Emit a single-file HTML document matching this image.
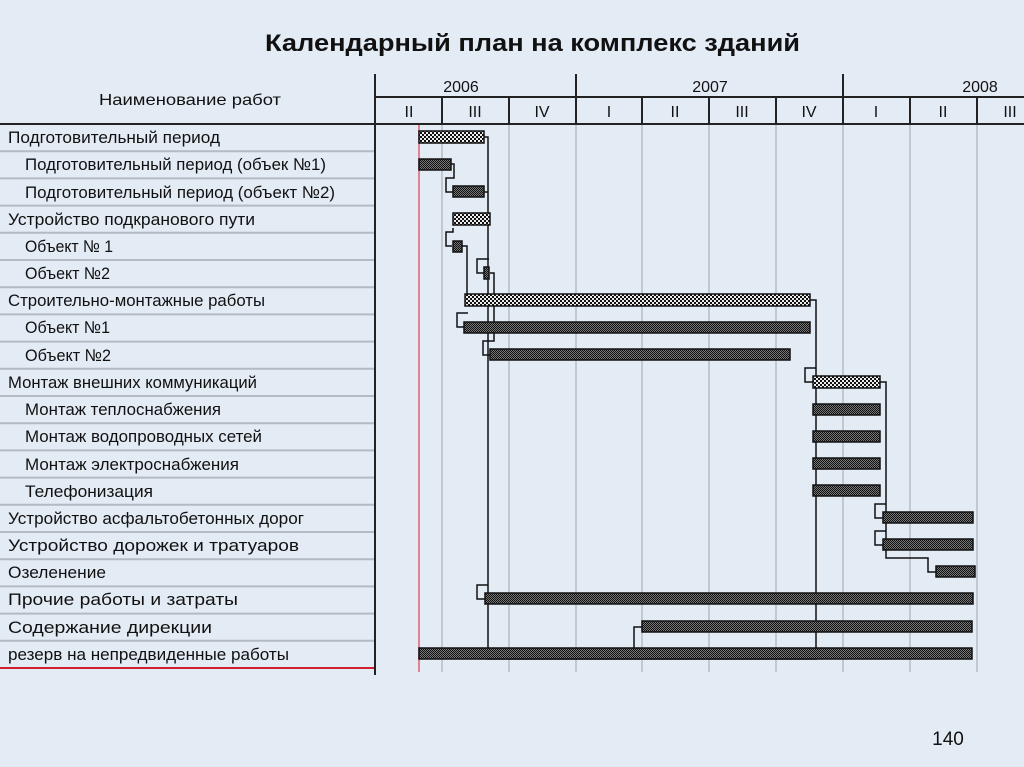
<!DOCTYPE html>
<html><head><meta charset="utf-8"><style>
html,body{margin:0;padding:0;background:#e3ebf5;}
svg{display:block}
</style></head><body>
<svg width="1024" height="767" viewBox="0 0 1024 767" xmlns="http://www.w3.org/2000/svg" font-family="'Liberation Sans', sans-serif">
<defs>
<pattern id="sum" width="4" height="4" patternUnits="userSpaceOnUse">
<rect width="4" height="4" fill="#eee"/><rect width="2" height="2" fill="#111"/><rect x="2" y="2" width="2" height="2" fill="#111"/>
</pattern>
<pattern id="tsk" width="2" height="2" patternUnits="userSpaceOnUse">
<rect width="2" height="2" fill="#777"/><rect width="1" height="1" fill="#111"/><rect x="1" y="1" width="1" height="1" fill="#111"/>
</pattern>
</defs>
<rect width="1024" height="767" fill="#e3ebf5"/>
<text x="265" y="51" font-size="24" font-weight="bold" fill="#111" textLength="535" lengthAdjust="spacingAndGlyphs">Календарный план на комплекс зданий</text>
<text x="948" y="745" text-anchor="middle" font-size="19" fill="#111">140</text>

<g stroke="#b4bac4" stroke-width="2">
<line x1="0" y1="151.2" x2="375" y2="151.2"/><line x1="0" y1="178.4" x2="375" y2="178.4"/><line x1="0" y1="205.6" x2="375" y2="205.6"/><line x1="0" y1="232.8" x2="375" y2="232.8"/><line x1="0" y1="260" x2="375" y2="260"/><line x1="0" y1="287.2" x2="375" y2="287.2"/><line x1="0" y1="314.4" x2="375" y2="314.4"/><line x1="0" y1="341.6" x2="375" y2="341.6"/><line x1="0" y1="368.8" x2="375" y2="368.8"/><line x1="0" y1="396" x2="375" y2="396"/><line x1="0" y1="423.2" x2="375" y2="423.2"/><line x1="0" y1="450.4" x2="375" y2="450.4"/><line x1="0" y1="477.6" x2="375" y2="477.6"/><line x1="0" y1="504.8" x2="375" y2="504.8"/><line x1="0" y1="532" x2="375" y2="532"/><line x1="0" y1="559.2" x2="375" y2="559.2"/><line x1="0" y1="586.4" x2="375" y2="586.4"/><line x1="0" y1="613.6" x2="375" y2="613.6"/><line x1="0" y1="640.8" x2="375" y2="640.8"/>
</g>
<g stroke="#b6bcc6" stroke-width="1.5">
<line x1="442" y1="124" x2="442" y2="672"/><line x1="509" y1="124" x2="509" y2="672"/><line x1="576" y1="124" x2="576" y2="672"/><line x1="642" y1="124" x2="642" y2="672"/><line x1="709" y1="124" x2="709" y2="672"/><line x1="776" y1="124" x2="776" y2="672"/><line x1="843" y1="124" x2="843" y2="672"/><line x1="910" y1="124" x2="910" y2="672"/><line x1="977" y1="124" x2="977" y2="672"/>
</g>
<line x1="419" y1="124" x2="419" y2="672" stroke="#e06070" stroke-width="1.5"/>
<line x1="0" y1="668" x2="375" y2="668" stroke="#d02030" stroke-width="2"/>

<g stroke="#222" stroke-width="2">
<line x1="0" y1="124" x2="1024" y2="124"/>
<line x1="375" y1="97" x2="1024" y2="97"/>
<line x1="375" y1="74" x2="375" y2="675"/>
<line x1="576" y1="74" x2="576" y2="124"/><line x1="843" y1="74" x2="843" y2="124"/>
<line x1="442" y1="97" x2="442" y2="124"/><line x1="509" y1="97" x2="509" y2="124"/><line x1="642" y1="97" x2="642" y2="124"/><line x1="709" y1="97" x2="709" y2="124"/><line x1="776" y1="97" x2="776" y2="124"/><line x1="910" y1="97" x2="910" y2="124"/><line x1="977" y1="97" x2="977" y2="124"/>
</g>
<g font-size="16" fill="#111" text-anchor="middle">
<text x="190" y="105" textLength="182" lengthAdjust="spacingAndGlyphs">Наименование работ</text>
<text x="461" y="92">2006</text><text x="710" y="92">2007</text><text x="980" y="92">2008</text>
<text x="409" y="117">II</text><text x="475" y="117">III</text><text x="542" y="117">IV</text><text x="609" y="117">I</text><text x="675" y="117">II</text><text x="742" y="117">III</text><text x="809" y="117">IV</text><text x="876" y="117">I</text><text x="943" y="117">II</text><text x="1010" y="117">III</text>
</g>

<g font-size="17" fill="#111">
<text x="8" y="143" textLength="212" lengthAdjust="spacingAndGlyphs">Подготовительный период</text>
<text x="25" y="170" textLength="301" lengthAdjust="spacingAndGlyphs">Подготовительный период (объек №1)</text>
<text x="25" y="198" textLength="310" lengthAdjust="spacingAndGlyphs">Подготовительный период (объект №2)</text>
<text x="8" y="225" textLength="247" lengthAdjust="spacingAndGlyphs">Устройство подкранового пути</text>
<text x="25" y="252" textLength="88" lengthAdjust="spacingAndGlyphs">Объект № 1</text>
<text x="25" y="279" textLength="85" lengthAdjust="spacingAndGlyphs">Объект №2</text>
<text x="8" y="306" textLength="257" lengthAdjust="spacingAndGlyphs">Строительно-монтажные работы</text>
<text x="25" y="333" textLength="85" lengthAdjust="spacingAndGlyphs">Объект №1</text>
<text x="25" y="361" textLength="86" lengthAdjust="spacingAndGlyphs">Объект №2</text>
<text x="8" y="388" textLength="249" lengthAdjust="spacingAndGlyphs">Монтаж внешних коммуникаций</text>
<text x="25" y="415" textLength="196" lengthAdjust="spacingAndGlyphs">Монтаж теплоснабжения</text>
<text x="25" y="442" textLength="237" lengthAdjust="spacingAndGlyphs">Монтаж водопроводных сетей</text>
<text x="25" y="470" textLength="214" lengthAdjust="spacingAndGlyphs">Монтаж электроснабжения</text>
<text x="25" y="497" textLength="128" lengthAdjust="spacingAndGlyphs">Телефонизация</text>
<text x="8" y="524" textLength="296" lengthAdjust="spacingAndGlyphs">Устройство асфальтобетонных дорог</text>
<text x="8" y="551" textLength="291" lengthAdjust="spacingAndGlyphs">Устройство дорожек и тратуаров</text>
<text x="8" y="578" textLength="98" lengthAdjust="spacingAndGlyphs">Озеленение</text>
<text x="8" y="605" textLength="230" lengthAdjust="spacingAndGlyphs">Прочие работы и затраты</text>
<text x="8" y="633" textLength="204" lengthAdjust="spacingAndGlyphs">Содержание дирекции</text>
<text x="8" y="660" textLength="281" lengthAdjust="spacingAndGlyphs">резерв на непредвиденные работы</text>
</g>

<g fill="none" stroke="#111" stroke-width="1.5">
<path d="M484 137 H488 V659 H816 V382"/>
<path d="M810 300 H816 V382"/>
<path d="M451 164 H454 V178 H446 V192 H453"/>
<path d="M484 192 H488"/>
<path d="M453 228 V232 H446 V246 H452"/>
<path d="M461 246 H467 V295"/>
<path d="M489 259 H477 V273 H484"/>
<path d="M490 273 H494 V341 H483 V355 H490"/>
<path d="M468 313 H457 V327 H464"/>
<path d="M816 368 H805 V382 H813"/>
<path d="M880 382 H886 V558 H928 V572 H936"/>
<path d="M886 504 H875 V518 H883"/>
<path d="M886 531 H875 V545 H883"/>
<path d="M488 585 H477 V599 H485"/>
<path d="M634 659 V627 H642"/>
</g>

<g stroke="#111" stroke-width="1.5">
<rect x="419" y="131" width="65" height="12" fill="url(#sum)"/>
<rect x="419" y="159" width="32" height="11" fill="url(#tsk)"/>
<rect x="453" y="186" width="31" height="11" fill="url(#tsk)"/>
<rect x="453" y="213" width="37" height="12" fill="url(#sum)"/>
<rect x="453" y="241" width="9" height="11" fill="url(#tsk)"/>
<rect x="484" y="267" width="5" height="12" fill="url(#tsk)"/>
<rect x="465" y="294" width="345" height="12" fill="url(#sum)"/>
<rect x="464" y="322" width="346" height="11" fill="url(#tsk)"/>
<rect x="490" y="349" width="300" height="11" fill="url(#tsk)"/>
<rect x="813" y="376" width="67" height="12" fill="url(#sum)"/>
<rect x="813" y="404" width="67" height="11" fill="url(#tsk)"/>
<rect x="813" y="431" width="67" height="11" fill="url(#tsk)"/>
<rect x="813" y="458" width="67" height="11" fill="url(#tsk)"/>
<rect x="813" y="485" width="67" height="11" fill="url(#tsk)"/>
<rect x="883" y="512" width="90" height="11" fill="url(#tsk)"/>
<rect x="883" y="539" width="90" height="11" fill="url(#tsk)"/>
<rect x="936" y="566" width="39" height="11" fill="url(#tsk)"/>
<rect x="485" y="593" width="488" height="11" fill="url(#tsk)"/>
<rect x="642" y="621" width="330" height="11" fill="url(#tsk)"/>
<rect x="419" y="648" width="553" height="11" fill="url(#tsk)"/>
</g>
</svg>
</body></html>
